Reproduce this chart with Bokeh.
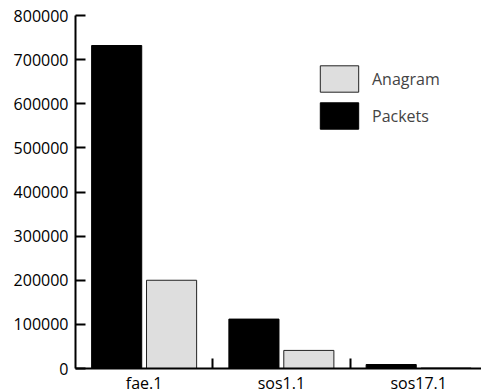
import numpy as np
from bokeh.plotting import figure
from bokeh.models import (ColumnDataSource, FixedTicker, Range1d, Legend,
                          LegendItem, BasicTickFormatter)
from bokeh.embed import file_html
from bokeh.resources import INLINE

# Benchmark inputs and the two measured series
categories = ["fae.1", "sos1.1", "sos17.1"]
packets = [732000, 112000, 9000]
anagram = [200000, 41000, 1000]
y_ticks = [0, 100000, 200000, 300000, 400000, 500000, 600000, 700000, 800000]

FONT = "Open Sans"
FONT_SIZE = "16px"
BAR_W = 0.365
OFFSET = 0.2

centers = np.arange(len(categories)) + 0.5
src = ColumnDataSource(dict(
    cat=categories,
    x_packets=centers - OFFSET,
    x_anagram=centers + OFFSET,
    packets=packets,
    anagram=anagram,
))

p = figure(frame_width=406, frame_height=353, output_backend="svg",
           toolbar_location=None,
           x_range=Range1d(0, 2.958), y_range=Range1d(0, 800000),
           min_border_left=75, min_border_right=0, min_border_top=15,
           min_border_bottom=20)
p.outline_line_color = None
p.xgrid.visible = False
p.ygrid.visible = False
p.background_fill_color = "white"
p.border_fill_color = "white"

r_pk = p.vbar(x="x_packets", top="packets", width=BAR_W, source=src,
              fill_color="black", line_color="black", line_width=1)
r_an = p.vbar(x="x_anagram", top="anagram", width=BAR_W, source=src,
              fill_color="#dedede", line_color="#222222", line_width=1)

# y axis: ticks pointing into the plot
ya = p.yaxis[0]
ya.ticker = FixedTicker(ticks=y_ticks)
ya.formatter = BasicTickFormatter(use_scientific=False)
ya.axis_line_width = 2
ya.axis_line_color = "black"
ya.major_tick_in = 10
ya.major_tick_out = 0
ya.major_tick_line_width = 2
ya.minor_tick_line_color = None
ya.major_label_text_font = FONT
ya.major_label_text_font_size = FONT_SIZE
ya.major_label_text_color = "black"
ya.major_label_standoff = 7

# x axis: category names centred, short separators between groups
xa = p.xaxis[0]
xa.ticker = FixedTicker(ticks=list(centers), minor_ticks=list(centers[:-1] + 0.5))
xa.major_label_overrides = {float(c): n for c, n in zip(centers, categories)}
xa.axis_line_width = 2
xa.axis_line_color = "black"
xa.major_tick_in = 0
xa.major_tick_out = 0
xa.minor_tick_in = 10
xa.minor_tick_out = 0
xa.minor_tick_line_width = 2
xa.minor_tick_line_color = "black"
xa.major_label_text_font = FONT
xa.major_label_text_font_size = FONT_SIZE
xa.major_label_text_color = "black"
xa.major_label_standoff = 3

legend = Legend(items=[LegendItem(label="Anagram", renderers=[r_an]),
                       LegendItem(label="Packets", renderers=[r_pk])],
                location=(240, 236), padding=0, margin=0, spacing=4,
                glyph_width=48, glyph_height=33, label_standoff=9,
                border_line_color=None, background_fill_alpha=0,
                label_text_font=FONT, label_text_font_size=FONT_SIZE)
p.add_layout(legend)

open("out.html", "w").write(file_html(p, INLINE))
